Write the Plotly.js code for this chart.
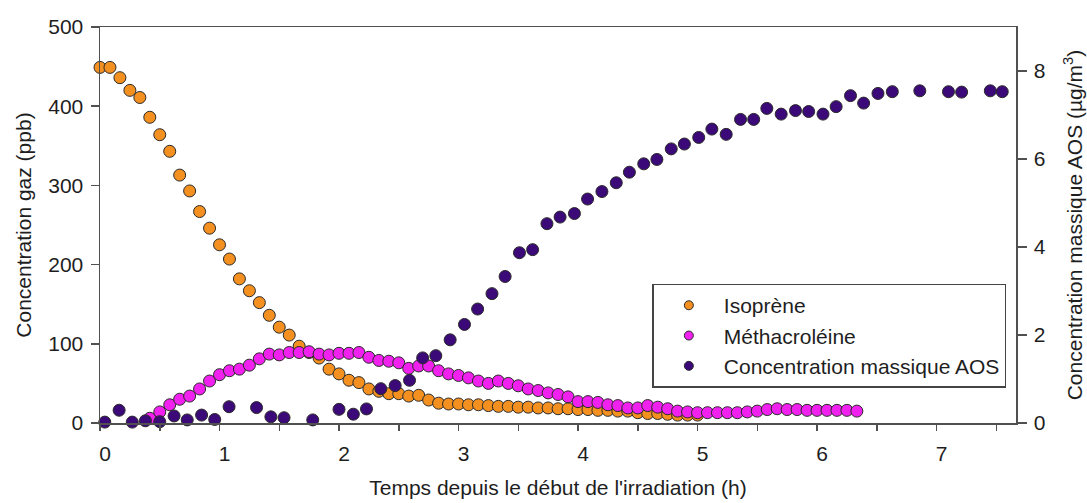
<!DOCTYPE html>
<html>
<head>
<meta charset="utf-8">
<script src="https://cdn.plot.ly/plotly-3.0.1.min.js"></script>
<style>html,body{margin:0;padding:0;background:#fff;} #chart{width:1087px;height:503px;}</style>
</head>
<body>
<div id="chart"></div>
<script>
// Isoprene (ppb), sampled every 5 minutes
const isopreneMinutes = [0,5,10,15,20,25,30,35,40,45,50,55,60,65,70,75,80,85,90,95,100,105,110,115,120,125,130,135,140,145,150,155,160,165,170,175,180,185,190,195,200,205,210,215,220,225,230,235,240,245,250,255,260,265,270,275,280,285,290,295,300];
const isopreneValues = [449,449,436,420,411,386,364,343,313,293,267,246,225,207,182,167,152,136,121,111,97,89,82,68,62,54,51,43,40,37,37,34,35,29,25,24,24,23,23,22,21,21,20,20,19,19,18,18,17,17,16,16,15,15,13,12,12,11,10,10,10];

// Methacrolein (ppb)
const macrMinutes = [25,30,35,40,45,50,55,60,65,70,75,80,85,90,95,100,105,110,115,120,125,130,135,140,145,150,155,160,165,170,175,180,185,190,195,200,205,210,215,220,225,230,235,240,245,250,255,260,265,270,275,280,285,290,295,300,305,310,315,320,325,330,335,340,345,350,355,360,365,370,375,380];
const macrValues = [6,14,23,30,34,43,53,61,66,68,73,81,87,86,89,89,90,87,86,88,88,89,83,79,78,76,69,72,72,66,62,60,57,53,50,53,50,47,43,41,38,36,33,27,27,26,23,22,19,19,22,20,18,15,14,13,13,13,13,13,14,15,17,18,17,17,16,16,16,16,16,15];

// SOA mass concentration (ug/m3)
const aosHours = [0.04,0.16,0.27,0.38,0.50,0.62,0.73,0.85,0.96,1.08,1.31,1.43,1.54,1.78,2.00,2.12,2.23,2.35,2.47,2.59,2.70,2.81,2.93,3.05,3.16,3.28,3.39,3.51,3.62,3.74,3.85,3.97,4.08,4.20,4.32,4.43,4.55,4.66,4.78,4.89,5.01,5.12,5.24,5.36,5.47,5.58,5.70,5.82,5.93,6.05,6.16,6.28,6.39,6.51,6.63,6.86,7.10,7.21,7.45,7.55];
const aosValues = [0.02,0.29,0.02,0.05,0.03,0.16,0.07,0.18,0.08,0.37,0.35,0.14,0.12,0.07,0.31,0.20,0.32,0.78,0.85,0.97,1.48,1.53,1.89,2.24,2.59,2.94,3.33,3.87,3.94,4.53,4.68,4.76,5.09,5.26,5.46,5.70,5.89,5.99,6.23,6.34,6.49,6.68,6.56,6.90,6.90,7.15,7.02,7.10,7.08,7.02,7.19,7.44,7.27,7.49,7.53,7.55,7.53,7.52,7.55,7.53];

const seriesNames = ['Isoprène','Méthacroléine','Concentration massique AOS'];
const seriesColors = ['#F39020','#F020EE','#3C0A78'];
const xTickVals = [0,1,2,3,4,5,6,7];
const yLeftTicks = [0,100,200,300,400,500];
const yRightTicks = [0,2,4,6,8];

const toHours = m => m / 60;
const FONT = 'Liberation Sans, Arial, sans-serif';
const TXT = '#1e1e1e';
const AX = '#505050';
const FS = 21;
const edge = {color:'#2a2a2a', width:1};

const traces = [
  {x: isopreneMinutes.map(toHours), y: isopreneValues, name: seriesNames[0], type:'scatter', mode:'markers',
   marker:{size:12, color:seriesColors[0], line:edge}, cliponaxis:false, showlegend:false},
  {x: macrMinutes.map(toHours), y: macrValues, name: seriesNames[1], type:'scatter', mode:'markers',
   marker:{size:12, color:seriesColors[1], line:edge}, cliponaxis:false, showlegend:false},
  {x: aosHours, y: aosValues, name: seriesNames[2], type:'scatter', mode:'markers', yaxis:'y2',
   marker:{size:12, color:seriesColors[2], line:edge}, cliponaxis:false, showlegend:false}
];
// legend entries (smaller symbols, as in the reference legend)
seriesNames.forEach((n,i) => traces.push({x:[null], y:[null], name:n, type:'scatter', mode:'markers',
  marker:{size:9, color:seriesColors[i], line:edge}, showlegend:true}));

const layout = {
  width:1087, height:503,
  margin:{l:100, r:71, t:27, b:80},
  paper_bgcolor:'#fff', plot_bgcolor:'#fff',
  font:{family:FONT, size:FS, color:TXT},
  showlegend:true,
  legend:{x:0.603, y:0.352, xanchor:'left', yanchor:'top', bgcolor:'#fff',
    bordercolor:'#444', borderwidth:1.5, font:{family:FONT, size:FS, color:TXT},
    itemwidth:60, tracegroupgap:0},
  xaxis:{range:[0,7.665], tickvals:xTickVals, ticks:'outside', ticklen:6, tickwidth:1.5, tickcolor:AX,
    showline:true, linecolor:AX, linewidth:1.5, mirror:true, showgrid:false, zeroline:false,
    ticklabelshift:5, ticklabelstandoff:5,
    minor:{dtick:0.5, tick0:0, ticks:'outside', ticklen:6, tickwidth:1.5, tickcolor:AX, showgrid:false},
    tickfont:{size:FS},
    title:{text:"Temps depuis le début de l'irradiation (h)", standoff:16, font:{size:FS}}},
  yaxis:{range:[0,500], tickvals:yLeftTicks, ticks:'outside', ticklen:8, tickwidth:1.5, tickcolor:AX,
    showline:true, linecolor:AX, linewidth:1.5, showgrid:false, zeroline:false,
    ticklabelstandoff:3, tickfont:{size:FS},
    title:{text:'Concentration gaz (ppb)', standoff:11, font:{size:FS}}},
  yaxis2:{range:[0,9], overlaying:'y', side:'right', tickvals:yRightTicks, ticks:'outside', ticklen:9,
    tickwidth:1.5, tickcolor:AX, showline:true, linecolor:AX, linewidth:1.5, showgrid:false, zeroline:false,
    ticklabelstandoff:3, tickfont:{size:FS},
    title:{text:'Concentration massique AOS (µg/m<sup>3</sup>)', standoff:22, font:{size:FS}}}
};

Plotly.newPlot('chart', traces, layout, {displayModeBar:false, staticPlot:true});
</script>
</body>
</html>
